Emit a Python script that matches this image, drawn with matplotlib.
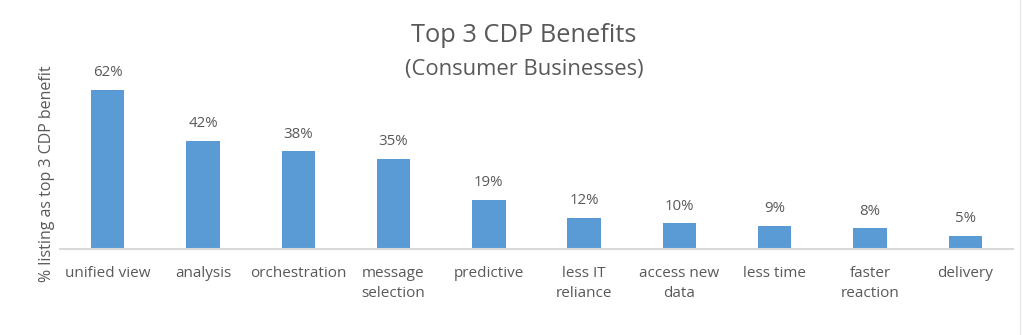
import matplotlib.pyplot as plt

categories = ['unified view', 'analysis', 'orchestration', 'message\nselection',
              'predictive', 'less IT\nreliance', 'access new\ndata', 'less time',
              'faster\nreaction', 'delivery']
values = [62, 42, 38, 35, 19, 12, 10, 9, 8, 5]

plt.rcParams['font.family'] = ['Open Sans', 'DejaVu Sans']
grey = '#595959'

fig = plt.figure(figsize=(10.24, 3.35), dpi=100)
ax = fig.add_axes([60 / 1024, 1 - 249 / 335, (1013 - 60) / 1024, (249 - 69) / 335])

x = range(len(values))
bars = ax.bar(x, values, width=0.35, color='#5B9BD5')
for b, v in zip(bars, values):
    ax.annotate(f'{v}%', (b.get_x() + b.get_width() / 2, v), xytext=(0, 7),
                textcoords='offset points', ha='center', va='bottom',
                fontsize=10.8, color=grey)

ax.set_xlim(-0.5, len(values) - 0.5)
ax.set_ylim(0, 70)
ax.set_xticks(list(x))
ax.set_xticklabels(categories, fontsize=11, color=grey, linespacing=1.5)
ax.tick_params(axis='x', length=0, pad=12)
ax.set_yticks([])
for s in ['top', 'right', 'left']:
    ax.spines[s].set_visible(False)
ax.spines['bottom'].set_color('#d9d9d9')
ax.spines['bottom'].set_linewidth(1.5)

fig.text(47 / 1024, 1 - 174 / 335, '% listing as top 3 CDP benefit', rotation=90,
         ha='center', va='center', fontsize=11.5, color=grey)
fig.text(524 / 1024, 1 - 35 / 335, 'Top 3 CDP Benefits', ha='center', va='center',
         fontsize=18.3, color=grey)
fig.text(524 / 1024, 1 - 69 / 335, '(Consumer Businesses)', ha='center', va='center',
         fontsize=15.8, color=grey)

fig.add_artist(plt.Line2D([1020 / 1024, 1020 / 1024], [0, 1], color='#e6e6e6', lw=1))

fig.savefig('out.png', dpi=100)
